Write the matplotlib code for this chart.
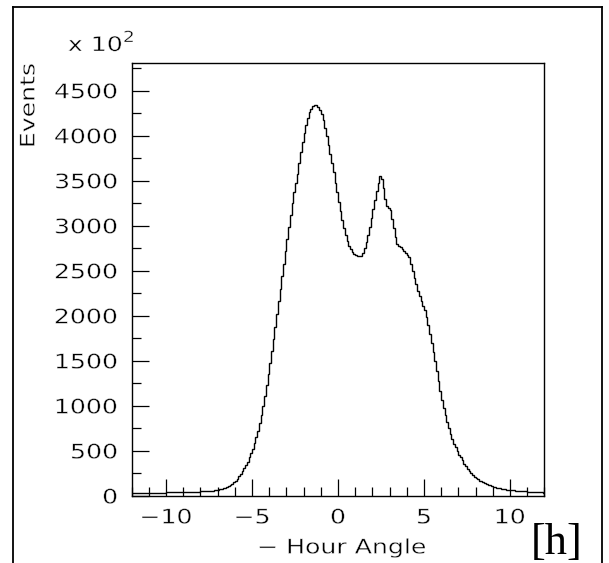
import numpy as np
import matplotlib
matplotlib.use('Agg')
import matplotlib.pyplot as plt
from matplotlib.lines import Line2D
from matplotlib.ticker import MultipleLocator
from matplotlib.patheffects import AbstractPathEffect
from matplotlib.transforms import Affine2D

# Histogram: 240 bins of 0.1 h from -12 to 12.
bin_edges = np.linspace(-12, 12, 241)
events = [
    33, 33, 33, 34, 34, 34, 34, 35, 35, 35,
    36, 36, 36, 36, 37, 37, 37, 37, 38, 38,
    39, 39, 40, 40, 41, 41, 42, 42, 43, 43,
    44, 44, 45, 45, 46, 46, 47, 47, 48, 49,
    50, 51, 52, 53, 55, 57, 59, 61, 64, 67,
    71, 75, 80, 86, 93, 101, 110, 121, 134, 150,
    170, 193, 218, 246, 276, 308, 342, 378, 430, 475,
    525, 585, 650, 725, 810, 900, 1000, 1110, 1230, 1350,
    1480, 1610, 1740, 1880, 2020, 2160, 2300, 2440, 2580, 2720,
    2850, 2990, 3120, 3250, 3370, 3480, 3580, 3700, 3820, 3930,
    4030, 4120, 4200, 4260, 4300, 4330, 4340, 4340, 4320, 4290,
    4240, 4170, 4090, 4000, 3900, 3800, 3700, 3600, 3480, 3370,
    3260, 3160, 3070, 2980, 2900, 2830, 2780, 2740, 2710, 2690,
    2675, 2665, 2660, 2670, 2700, 2750, 2820, 2900, 2990, 3090,
    3190, 3290, 3390, 3480, 3550, 3520, 3420, 3300, 3220, 3200,
    3180, 3080, 2980, 2880, 2800, 2780, 2760, 2740, 2725, 2700,
    2680, 2650, 2580, 2500, 2420, 2350, 2280, 2220, 2160, 2110,
    2060, 1990, 1900, 1800, 1700, 1600, 1500, 1390, 1280, 1170,
    1070, 980, 900, 820, 750, 690, 630, 580, 540, 500,
    460, 430, 395, 360, 330, 300, 275, 255, 235, 215,
    200, 185, 172, 165, 155, 145, 135, 126, 118, 111,
    104, 98, 93, 88, 84, 80, 77, 74, 72, 70,
    68, 66, 63, 61, 59, 57, 55, 53, 52, 50,
    49, 47, 46, 45, 44, 42, 41, 40, 39, 38,
]

x_ticks = [-10, -5, 0, 5, 10]
y_ticks = [0, 500, 1000, 1500, 2000, 2500, 3000, 3500, 4000, 4500]


class Stretch(AbstractPathEffect):
    """Widen and thin the text (the PAW font is wider and lighter than DejaVu)."""

    def __init__(self, sx, anchor='center', thin=0.35):
        super().__init__()
        self.sx = sx
        self.anchor = anchor
        self.thin = thin

    def draw_path(self, renderer, gc, tpath, affine, rgbFace=None):
        ext = tpath.get_extents()
        x0 = {'left': ext.x0, 'right': ext.x1, 'center': (ext.x0 + ext.x1) / 2}[self.anchor]
        t = Affine2D().translate(-x0, 0).scale(self.sx, 1).translate(x0, 0) + affine
        renderer.draw_path(gc, tpath, t, rgbFace)
        # erode the glyphs a bit with a white outline
        gc2 = renderer.new_gc()
        gc2.copy_properties(gc)
        gc2.set_foreground('white')
        gc2.set_linewidth(self.thin)
        renderer.draw_path(gc2, tpath, t, None)
        gc2.restore()


SX = 1.25
FS = 14.5
W, H = 609, 563
fig = plt.figure(figsize=(W / 100, H / 100), dpi=100)
ax = fig.add_axes([131.7 / W, 1 - 496 / H, (544.3 - 131.7) / W, (496 - 62.7) / H])

# Data.
ax.stairs(events, bin_edges, baseline=None, color='black', linewidth=1.0)

# Axes setup (PAW look: inward ticks on left/bottom only).
ax.set_xlim(-12, 12)
ax.set_ylim(0, 4811)
ax.set_xticks(x_ticks)
ax.set_yticks(y_ticks)
ax.xaxis.set_minor_locator(MultipleLocator(1))
ax.yaxis.set_minor_locator(MultipleLocator(250))
ax.tick_params(which='both', direction='in', top=False, right=False,
               width=0.9, colors='black', labelsize=FS)
ax.tick_params(which='major', length=12.3)
ax.tick_params(which='minor', length=6.2)
ax.tick_params(axis='y', pad=10)
ax.tick_params(axis='x', pad=9)
for spine in ax.spines.values():
    spine.set_linewidth(1.0)

for tick in ax.yaxis.get_major_ticks():
    tick.label1.set_path_effects([Stretch(SX, 'right')])
for tick in ax.xaxis.get_major_ticks():
    tick.label1.set_path_effects([Stretch(SX, 'center')])

# Labels.
fig.text(342 / W, 1 - 548 / H, '\u2212 Hour Angle', ha='center', va='center', fontsize=FS,
         path_effects=[Stretch(SX, 'center')])
fig.text(29 / W, 1 - 63 / H, 'Events', rotation=90, ha='center', va='top', fontsize=FS,
         path_effects=[Stretch(SX, 'right')])
fig.text(68 / W, 1 - 51 / H, 'x 10', ha='left', va='baseline', fontsize=FS,
         path_effects=[Stretch(SX, 'left')])
fig.text(123 / W, 1 - 42 / H, '2', ha='left', va='baseline', fontsize=11,
         path_effects=[Stretch(SX, 'left')])
fig.text(557 / W, 1 - 563 / H, '[h]', ha='center', va='bottom', fontsize=32,
         family='Liberation Serif')

# Outer frame.
fig.add_artist(Line2D([13 / W, 13 / W], [0, 1 - 7 / H], color='black', lw=1.3))
fig.add_artist(Line2D([602 / W, 602 / W], [0, 1 - 7 / H], color='black', lw=1.3))
fig.add_artist(Line2D([13 / W, 602 / W], [1 - 7 / H, 1 - 7 / H], color='black', lw=1.3))

fig.savefig('out.png', dpi=100)
